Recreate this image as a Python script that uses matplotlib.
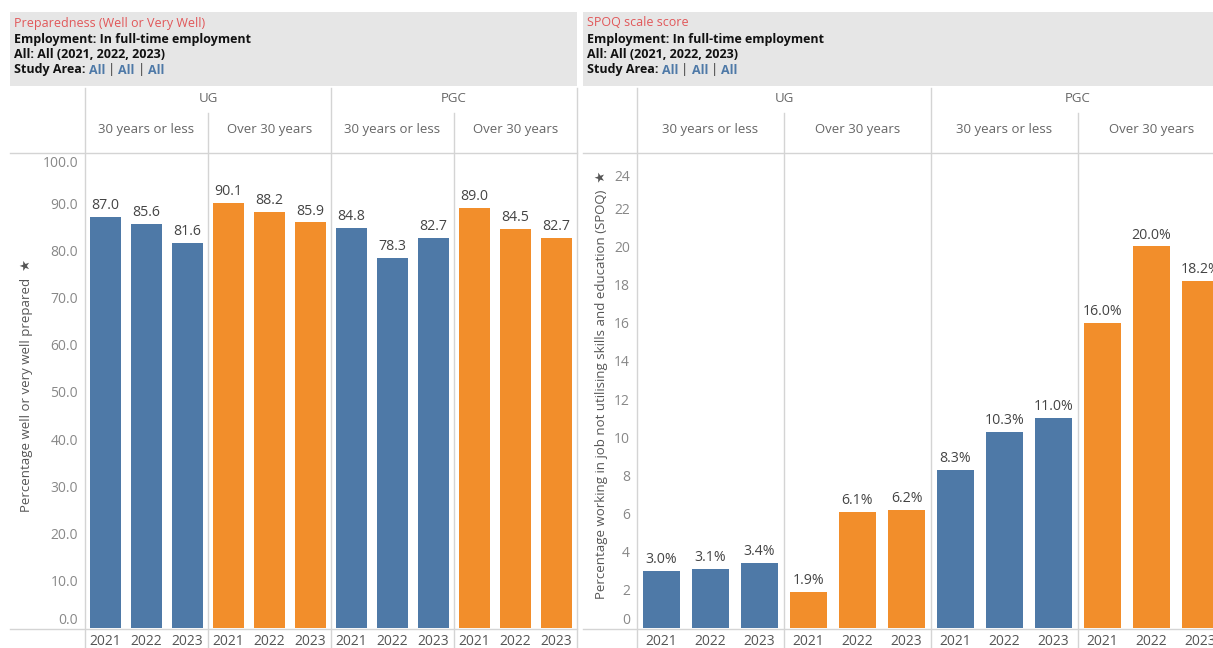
import matplotlib

matplotlib.use("Agg")
import matplotlib.pyplot as plt
from matplotlib.patches import Rectangle

W, H = 1213, 648
plt.rcParams["font.family"] = ["Open Sans", "DejaVu Sans"]

# ---- data -------------------------------------------------------------
levels = ["UG", "PGC"]
ages = ["30 years or less", "Over 30 years"]
years = ["2021", "2022", "2023"]
prep_values = [87.0, 85.6, 81.6, 90.1, 88.2, 85.9, 84.8, 78.3, 82.7, 89.0, 84.5, 82.7]
spoq_values = [3.0, 3.1, 3.4, 1.9, 6.1, 6.2, 8.3, 10.3, 11.0, 16.0, 20.0, 18.2]
prep_ticks = [0, 10, 20, 30, 40, 50, 60, 70, 80, 90, 100]
spoq_ticks = [0, 2, 4, 6, 8, 10, 12, 14, 16, 18, 20, 22, 24]

AGE_COLORS = {"30 years or less": "#4e79a7", "Over 30 years": "#f28e2b"}
GRID = "#d4d4d4"
HEAD_BG = "#e6e6e6"
TITLE_RED = "#e15759"
LINK_BLUE = "#4e79a7"
HEAD_SIZE = 9.0

fig = plt.figure(figsize=(W / 100, H / 100), dpi=100)
ov = fig.add_axes([0, 0, 1, 1])
ov.set_xlim(0, W)
ov.set_ylim(H, 0)
ov.axis("off")
renderer = fig.canvas.get_renderer()


def px_axes(x0, y0, x1, y1):
    ax = fig.add_axes([x0 / W, 1 - y1 / H, (x1 - x0) / W, (y1 - y0) / H])
    ax.patch.set_alpha(0)
    return ax


def text_runs(x, y, runs, size=HEAD_SIZE):
    for txt, color, weight in runs:
        t = ov.text(x, y, txt, color=color, fontsize=size, fontweight=weight,
                    va="center", ha="left")
        bb = t.get_window_extent(renderer)
        x += bb.width


def draw_panel(box_x0, axis_x, col_w, title, values, ymax, ticks, tick_fmt,
               ylabel, ylabel_x, val_fmt, bar_w):
    box_x1 = min(axis_x + 4 * col_w, W)
    # header box
    ov.add_patch(Rectangle((box_x0, 12), box_x1 - box_x0, 74, color=HEAD_BG, lw=0))
    tx = box_x0 + 4
    ov.text(tx, 23, title, color=TITLE_RED, fontsize=HEAD_SIZE, va="center")
    ov.text(tx, 39, "Employment: In full-time employment", color="#111",
            fontsize=HEAD_SIZE, fontweight="bold", va="center")
    ov.text(tx, 55, "All: All (2021, 2022, 2023)", color="#111",
            fontsize=HEAD_SIZE, fontweight="bold", va="center")
    text_runs(tx, 70, [("Study Area: ", "#111", "bold"), ("All", LINK_BLUE, "bold"),
                       (" | ", "#333", "normal"), ("All", LINK_BLUE, "bold"),
                       (" | ", "#333", "normal"), ("All", LINK_BLUE, "bold")])

    # column headers and separators
    ov.plot([axis_x, axis_x], [88, H], color=GRID, lw=1)
    for i, lev in enumerate(levels):
        lx0 = axis_x + i * 2 * col_w
        ov.text(lx0 + col_w, 98, lev, color="#666", fontsize=9.5, ha="center", va="center")
        ov.plot([lx0 + 2 * col_w] * 2, [88, H], color=GRID, lw=1)
        for j, age in enumerate(ages):
            cx0 = lx0 + j * col_w
            ov.text(cx0 + col_w / 2, 130, age, color="#666", fontsize=9.5,
                    ha="center", va="center")
            if j == 1:
                ov.plot([cx0, cx0], [113, H], color=GRID, lw=1)
    ov.plot([box_x0, box_x1], [153, 153], color=GRID, lw=1)
    ov.plot([box_x0, box_x1], [629, 629], color=GRID, lw=1)

    # bars
    ax = px_axes(axis_x, 153, axis_x + 4 * col_w, 628)
    n = len(values)
    xs = list(range(n))
    colors = [AGE_COLORS[ages[(i // 3) % 2]] for i in xs]
    ax.bar(xs, values, width=bar_w, color=colors, zorder=2)
    for x, v in zip(xs, values):
        ax.text(x, v + ymax * 0.008, val_fmt.format(v), ha="center", va="bottom",
                fontsize=10.2, color="#444")
    ax.set_xlim(-0.5, n - 0.5)
    ax.set_ylim(0, ymax)
    ax.set_xticks(xs)
    ax.set_xticklabels(years * 4, fontsize=10, color="#555")
    ax.set_yticks(ticks)
    labels = ax.set_yticklabels([tick_fmt.format(t) for t in ticks], fontsize=10,
                                color="#888")
    labels[0].set_va("bottom")
    labels[-1].set_va("top")
    ax.tick_params(length=0, pad=5)
    ax.tick_params(axis="x", pad=4)
    for s in ax.spines.values():
        s.set_visible(False)

    ov.text(ylabel_x, 385, ylabel + "  \u2605", rotation=90, color="#555",
            fontsize=9.5, ha="center", va="center")


draw_panel(10, 85, 123, "Preparedness (Well or Very Well)", prep_values, 100.6,
           prep_ticks, "{:.1f}", "Percentage well or very well prepared", 27,
           "{:.1f}", 0.78)
draw_panel(583, 637, 147, "SPOQ scale score", spoq_values, 24.9,
           spoq_ticks, "{:d}", "Percentage working in job not utilising skills and education (SPOQ)",
           601, "{:.1f}%", 0.76)

fig.savefig("out.png", dpi=100)
